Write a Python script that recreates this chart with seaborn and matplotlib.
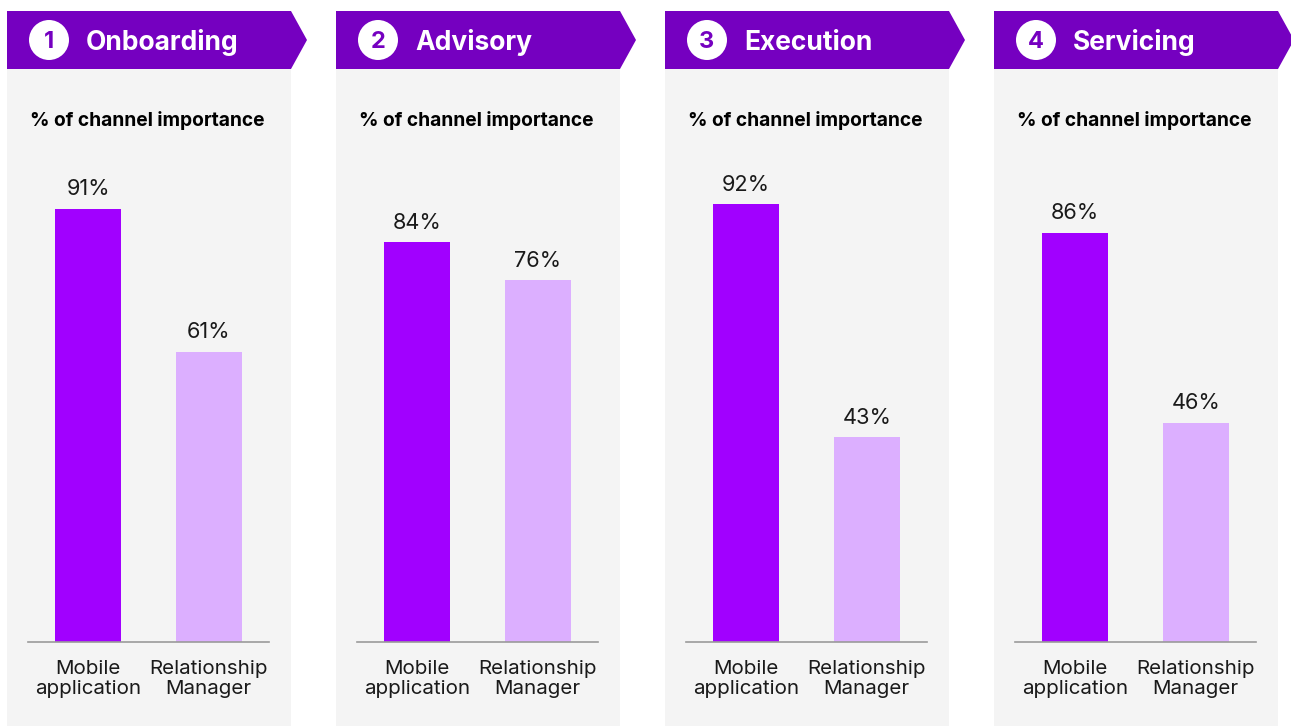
import pandas as pd
import matplotlib
matplotlib.use("Agg")
import matplotlib.pyplot as plt
import seaborn as sns
from matplotlib.patches import Rectangle, Polygon, Ellipse

# Data
stages = ["Onboarding", "Advisory", "Execution", "Servicing"]
channels = ["Mobile\napplication", "Relationship\nManager"]
mobile_app = [91, 84, 92, 86]
relationship_mgr = [61, 76, 43, 46]
subtitle = "% of channel importance"

# Colours
header_col = "#7500C0"
bar_cols = ["#A100FF", "#DCAFFF"]
panel_col = "#F4F4F4"

sns.set_style("white")
plt.rcParams['font.family'] = ['Inter', 'DejaVu Sans']

W, H = 1291, 726
fig = plt.figure(figsize=(W / 100, H / 100), dpi=100)
fig.patch.set_facecolor("white")

def fx(px):
    return px / W

def fy(py):
    return 1 - py / H

pitch = 329
panel_w = 284
px_per_unit = 4.758
base_y = 642

for i, stage in enumerate(stages):
    x0 = 7 + i * pitch

    # gray panel + chevron header
    fig.patches.append(Rectangle((fx(x0), fy(726)), panel_w / W, (726 - 69) / H,
                                 transform=fig.transFigure, facecolor=panel_col,
                                 edgecolor="none", zorder=-3))
    pts = [(x0, 11), (x0 + panel_w, 11), (x0 + panel_w + 16, 40),
           (x0 + panel_w, 69), (x0, 69)]
    fig.patches.append(Polygon([(fx(a), fy(b)) for a, b in pts], closed=True,
                               transform=fig.transFigure, facecolor=header_col,
                               edgecolor="none", zorder=-2))
    fig.patches.append(Ellipse((fx(x0 + 42), fy(40)), 40 / W, 40 / H,
                               transform=fig.transFigure, facecolor="white",
                               edgecolor="none", zorder=-1))
    fig.text(fx(x0 + 42), fy(40), str(i + 1), color=header_col, fontsize=17,
             fontweight="bold", ha="center", va="center_baseline", zorder=3)
    fig.text(fx(x0 + 79), fy(39.5), stage, color="white", fontsize=19,
             fontweight="bold", ha="left", va="center_baseline", zorder=3)
    fig.text(fx(x0 + 23), fy(118), subtitle, color="black", fontsize=13.8,
             fontweight="bold", ha="left", va="center_baseline", zorder=3)

    # bar axes
    ax_left = x0 + 21
    ax_w = 241
    ax_h = 100 * px_per_unit
    ax = fig.add_axes([fx(ax_left), fy(base_y), ax_w / W, ax_h / H])
    ax.set_zorder(2)
    ax.set_facecolor("none")

    df = pd.DataFrame({"channel": channels,
                       "value": [mobile_app[i], relationship_mgr[i]]})
    sns.barplot(data=df, x="channel", y="value", hue="channel",
                palette=bar_cols, width=0.545, saturation=1, legend=False,
                linewidth=0, ax=ax)
    for cont in ax.containers:
        ax.bar_label(cont, fmt="%d%%", padding=7, fontsize=15.7, color="#1a1a1a")

    ax.set_xlim(-0.5, 1.5)
    ax.set_ylim(0, 100)
    ax.set_xlabel("")
    ax.set_ylabel("")
    ax.set_yticks([])
    ax.tick_params(axis="x", length=0, pad=13, labelsize=14.8, labelcolor="#1a1a1a")
    for lab in ax.get_xticklabels():
        lab.set_linespacing(1.13)
    for s in ["top", "left", "right"]:
        ax.spines[s].set_visible(False)
    ax.spines["bottom"].set_color("#9a9a9a")
    ax.spines["bottom"].set_linewidth(1.2)

fig.savefig("out.png", dpi=100)
